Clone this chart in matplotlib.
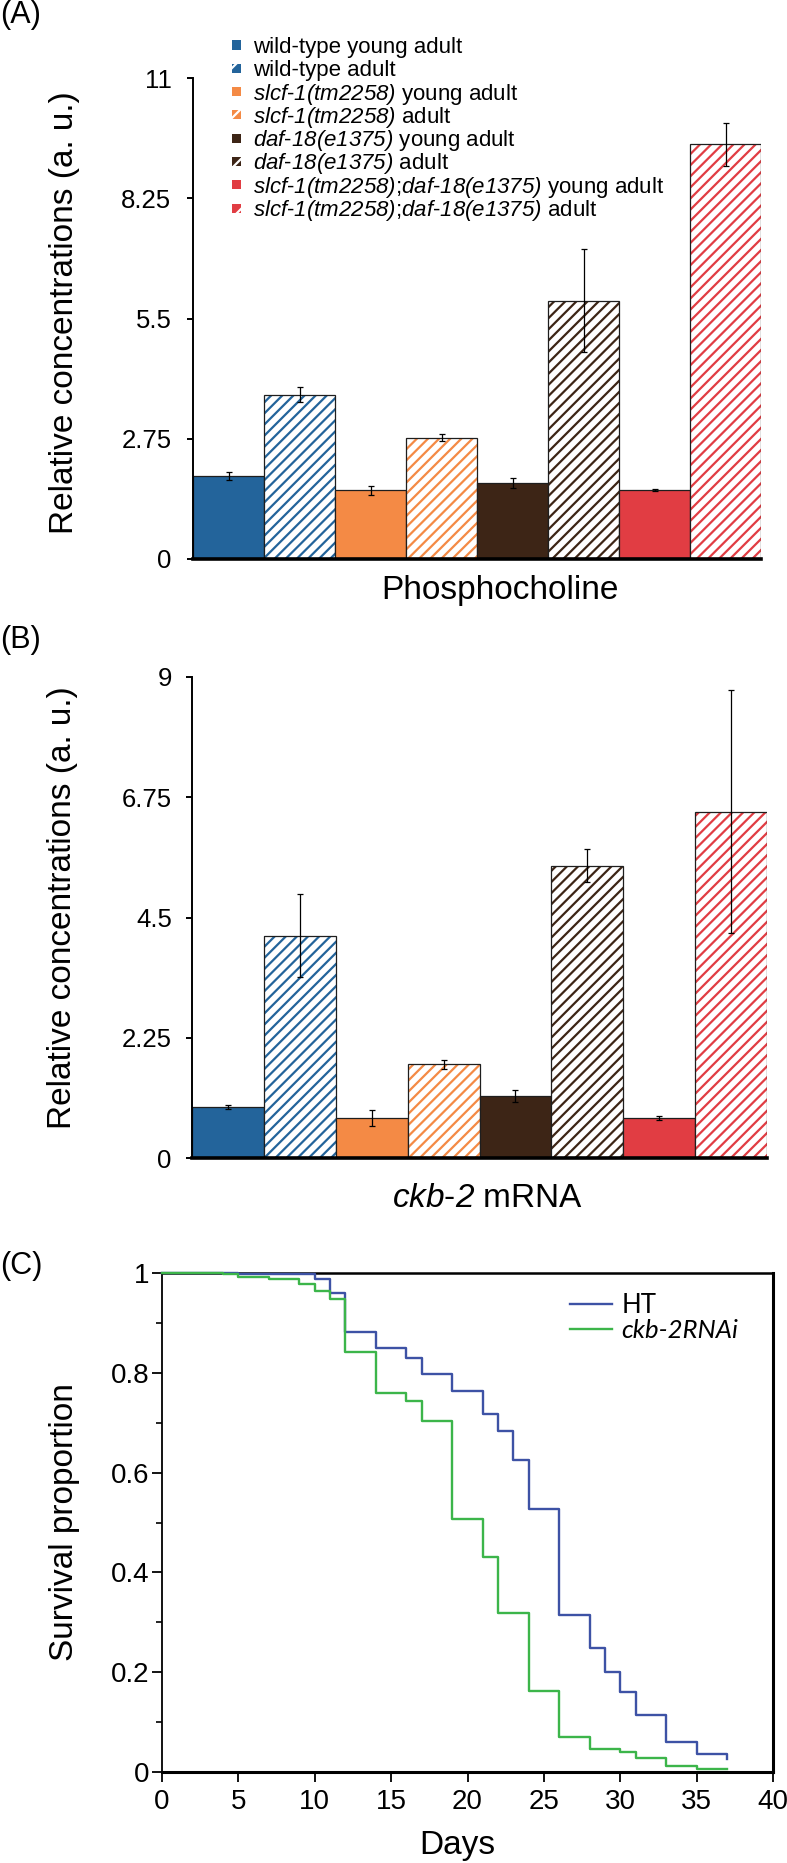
import matplotlib
matplotlib.use('Agg')
import matplotlib.pyplot as plt
import numpy as np
from matplotlib.patches import Rectangle
from matplotlib.ticker import FixedLocator
from matplotlib.font_manager import FontProperties

plt.rcParams['font.family'] = ['Liberation Sans', 'DejaVu Sans']
plt.rcParams['mathtext.fontset'] = 'custom'
plt.rcParams['mathtext.rm'] = 'Liberation Sans:italic'
plt.rcParams['mathtext.it'] = 'Liberation Sans:italic'
plt.rcParams['mathtext.bf'] = 'Liberation Sans:bold'
plt.rcParams['hatch.linewidth'] = 1.6

# ---------------- data ----------------
legend_labels = [
    'wild-type young adult',
    'wild-type adult',
    r'$slcf$-$1(tm2258)$ young adult',
    r'$slcf$-$1(tm2258)$ adult',
    r'$daf$-$18(e1375)$ young adult',
    r'$daf$-$18(e1375)$ adult',
    r'$slcf$-$1(tm2258)$;$daf$-$18(e1375)$ young adult',
    r'$slcf$-$1(tm2258)$;$daf$-$18(e1375)$ adult',
]
bar_colors = ['#23649b', '#23649b', '#f48a45', '#f48a45',
              '#3d2516', '#3d2516', '#e13d43', '#e13d43']
bar_hatched = [False, True, False, True, False, True, False, True]

phos_vals = [1.90, 3.76, 1.57, 2.77, 1.74, 5.91, 1.58, 9.48]
phos_err = [0.09, 0.18, 0.11, 0.08, 0.12, 1.18, 0.02, 0.49]
phos_ticks = [0, 2.75, 5.5, 8.25, 11]
phos_ticklabels = ['0', '2.75', '5.5', '8.25', '11']

ckb_vals = [0.95, 4.16, 0.75, 1.75, 1.16, 5.47, 0.75, 6.48]
ckb_err = [0.04, 0.78, 0.15, 0.08, 0.12, 0.31, 0.04, 2.27]
ckb_ticks = [0, 2.25, 4.5, 6.75, 9]
ckb_ticklabels = ['0', '2.25', '4.5', '6.75', '9']

ht_days = [0, 5, 10, 11, 12, 14, 16, 17, 19, 21, 22, 23, 24, 26, 28, 29, 30, 31, 33, 35, 37]
ht_surv = [1.0, 0.997, 0.987, 0.960, 0.882, 0.850, 0.830, 0.797, 0.763, 0.718, 0.684,
           0.626, 0.528, 0.314, 0.249, 0.201, 0.160, 0.114, 0.060, 0.036, 0.026]
rnai_days = [0, 4, 5, 7, 9, 10, 11, 12, 14, 16, 17, 19, 21, 22, 24, 26, 28, 30, 31, 33, 35, 37]
rnai_surv = [1.0, 0.997, 0.992, 0.987, 0.978, 0.963, 0.947, 0.841, 0.760, 0.743, 0.704,
             0.508, 0.430, 0.319, 0.162, 0.070, 0.047, 0.040, 0.028, 0.012, 0.007, 0.007]
surv_labels = ['HT', 'ckb-2RNAi']
surv_colors = ['#3d52a5', '#3cb54a']
days_ticks = [0, 5, 10, 15, 20, 25, 30, 35, 40]
surv_ticks = [0, 0.2, 0.4, 0.6, 0.8, 1.0]
surv_ticklabels = ['0', '0.2', '0.4', '0.6', '0.8', '1']
surv_minor = [0.1, 0.3, 0.5, 0.7, 0.9]

# ---------------- figure ----------------
W, H = 787, 1863
fig = plt.figure(figsize=(W / 100, H / 100), dpi=100)


def ax_px(left, right, top, bottom):
    return fig.add_axes([left / W, 1 - bottom / H, (right - left) / W, (bottom - top) / H])


def draw_bars(ax, vals, errs):
    x = np.arange(len(vals))
    for xi, v, c, h in zip(x, vals, bar_colors, bar_hatched):
        if h:
            ax.bar(xi, v, width=1.0, color='white', edgecolor=c, hatch='///', linewidth=0)
        else:
            ax.bar(xi, v, width=1.0, color=c, linewidth=0)
        ax.bar(xi, v, width=1.0, fill=False, edgecolor='#1e1e1e', linewidth=0.9)
    ax.errorbar(x, vals, yerr=errs, fmt='none', ecolor='black', elinewidth=0.9,
                capsize=2.0, capthick=0.9)
    ax.set_xlim(-0.5, len(vals) - 0.5)
    ax.spines['top'].set_visible(False)
    ax.spines['right'].set_visible(False)
    ax.spines['left'].set_linewidth(1.4)
    ax.spines['bottom'].set_linewidth(2.6)
    ax.set_xticks([])
    ax.tick_params(axis='y', direction='out', length=4.5, width=1.4, labelsize=18.5)


# Panel A
axA = ax_px(193, 761, 78, 559)
draw_bars(axA, phos_vals, phos_err)
axA.set_ylim(0, 11)
axA.set_yticks(phos_ticks)
axA.set_yticklabels(phos_ticklabels)
axA.tick_params(axis='y', pad=11)
axA.set_ylabel('Relative concentrations (a. u.)', fontsize=24)
axA.yaxis.set_label_coords((80 - 193) / 568, (559 - 313) / 481)
axA.set_xlabel('Phosphocholine', fontsize=24)
axA.xaxis.set_label_coords((500 - 193) / 568, (559 - 575) / 481)

# Panel B
axB = ax_px(192, 767, 677, 1158)
draw_bars(axB, ckb_vals, ckb_err)
axB.set_ylim(0, 9)
axB.set_yticks(ckb_ticks)
axB.set_yticklabels(ckb_ticklabels)
axB.tick_params(axis='y', pad=10)
axB.set_ylabel('Relative concentrations (a. u.)', fontsize=24)
axB.yaxis.set_label_coords((78 - 192) / 575, (1158 - 908) / 481)
axB.set_xlabel(r'$ckb$-$2$ mRNA', fontsize=24)
axB.xaxis.set_label_coords((488 - 192) / 575, (1158 - 1183) / 481)

# Legend for A (manual rows)
for i, lab in enumerate(legend_labels):
    yc = 45 + i * 23.3
    c = bar_colors[i]
    if bar_hatched[i]:
        r = Rectangle((232 / W, 1 - (yc + 4.5) / H), 9 / W, 9 / H, transform=fig.transFigure,
                      facecolor=c, edgecolor='white', hatch='//', linewidth=0)
    else:
        r = Rectangle((232 / W, 1 - (yc + 4.5) / H), 9 / W, 9 / H, transform=fig.transFigure,
                      facecolor=c, linewidth=0)
    fig.add_artist(r)
    fig.text(253 / W, 1 - (yc + 8) / H, lab, fontsize=16, va='baseline', ha='left')

# Panel C
axC = ax_px(162, 773, 1273, 1772)
for d, s, lab, col in zip([ht_days, rnai_days], [ht_surv, rnai_surv], surv_labels, surv_colors):
    axC.step(d, s, where='post', color=col, lw=1.7, label=lab, zorder=3, clip_on=False)
axC.set_xlim(0, 40)
axC.set_ylim(0, 1)
axC.set_xticks(days_ticks)
axC.set_yticks(surv_ticks)
axC.set_yticklabels(surv_ticklabels)
axC.yaxis.set_minor_locator(FixedLocator(surv_minor))
axC.tick_params(axis='both', which='major', direction='out', length=7, width=1.3,
                labelsize=20)
axC.tick_params(axis='y', which='major', pad=2)
axC.tick_params(axis='x', which='major', pad=5)
axC.tick_params(axis='y', which='minor', direction='out', length=4.5, width=1.2)
axC.spines['left'].set_linewidth(1.3)
axC.spines['top'].set_linewidth(1.8)
axC.spines['right'].set_linewidth(2.2)
axC.spines['bottom'].set_linewidth(2.2)
axC.set_ylabel('Survival proportion', fontsize=24)
axC.yaxis.set_label_coords((80 - 162) / 611, 0.5)
axC.set_xlabel('Days', fontsize=24)
axC.xaxis.set_label_coords((457 - 162) / 611, (1772 - 1830) / 499)
leg = axC.legend(prop=FontProperties(family=['Lato', 'DejaVu Sans'], size=18.5),
                 frameon=False, loc='upper left', bbox_to_anchor=(570 / W, 1 - 1293 / H),
                 bbox_transform=fig.transFigure, handlelength=1.65, handletextpad=0.35,
                 labelspacing=0.05, borderpad=0, borderaxespad=0)
leg.get_texts()[1].set_style('italic')

# Panel letters
fig.text(0, 1 - 15 / H, '(A)', fontsize=22, va='center', ha='left')
fig.text(0, 1 - 640 / H, '(B)', fontsize=22, va='center', ha='left')
fig.text(0, 1 - 1266 / H, '(C)', fontsize=22, va='center', ha='left')

fig.savefig('out.png', dpi=100)
